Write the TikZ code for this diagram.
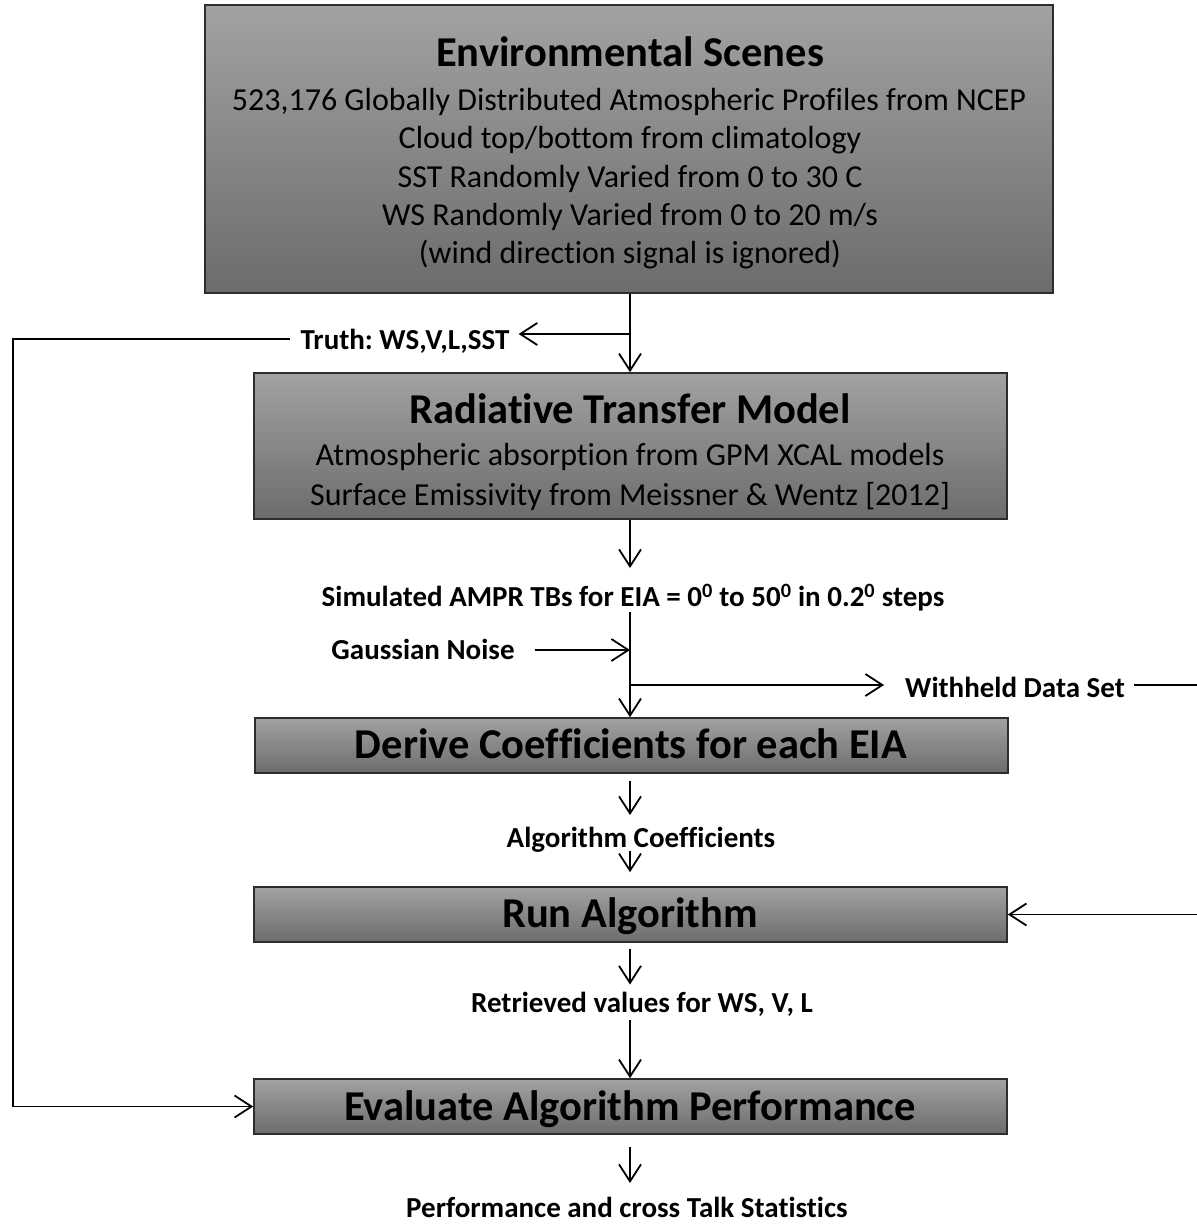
\documentclass[tikz,border=0pt]{standalone}
\usepackage{fontspec}
\setmainfont{Carlito}[Ligatures=NoCommon]
\usetikzlibrary{arrows.meta,calc}
\definecolor{gtop}{RGB}{162,162,162}
\definecolor{gbot}{RGB}{108,108,108}
\definecolor{gedge}{RGB}{45,45,45}
\frenchspacing
\begin{document}
\begin{tikzpicture}[x=1pt,y=-1pt,
  box/.style={draw=gedge,line width=1.6pt,top color=gtop,bottom color=gbot,inner sep=0pt},
  arr/.style={line width=1.8pt,-{Straight Barb[length=17pt,width=22pt,line width=1.8pt]}},
  ttl/.style={font=\fontsize{42.5}{48}\selectfont\bfseries,inner sep=0pt,text height=27pt,text depth=0pt},
  body/.style={font=\fontsize{32}{38}\selectfont,inner sep=0pt,text height=20.5pt,text depth=0pt},
  lbl/.style={font=\fontsize{29}{34}\selectfont\bfseries,inner sep=0pt,text height=18.6pt,text depth=0pt}]
\useasboundingbox[fill=white] (0,0) rectangle (1196,1225);
% boxes
\node[box,minimum width=848pt,minimum height=288pt] (b1) at (629,149) {};
\node[box,minimum width=753pt,minimum height=146pt] (b2) at (630.5,446) {};
\node[box,minimum width=753pt,minimum height=55pt] (b3) at (631.5,745.5) {};
\node[box,minimum width=753pt,minimum height=55pt] (b4) at (630.5,914.5) {};
\node[box,minimum width=753pt,minimum height=55pt] (b5) at (630.5,1106.5) {};
% box texts
\node[ttl] (t1) at (630,53) {Environmental Scenes};
\node[body] (l1) at (629,100) {523,176 Globally Distributed Atmospheric Profiles from NCEP};
\node[body] (l2) at (630,138) {Cloud top/bottom from climatology};
\node[body] (l3) at (630,177) {SST Randomly Varied from 0 to 30 C};
\node[body] (l4) at (630,215) {WS Randomly Varied from 0 to 20 m/s};
\node[body] (l5) at (630,253) {(wind direction signal is ignored)};
\node[ttl] (t2) at (630,410) {Radiative Transfer Model};
\node[body] (m1) at (630,455) {Atmospheric absorption from GPM XCAL models};
\node[body] (m2) at (630,495) {Surface Emissivity from Meissner \& Wentz [2012]};
\node[ttl] (t3) at (631,745) {Derive Coefficients for each EIA};
\node[ttl] (t4) at (630,914) {Run Algorithm};
\node[ttl] (t5) at (630,1107) {Evaluate Algorithm Performance};
% labels
\node[lbl] (truth) at (405,340) {Truth: WS,V,L,SST};
\node[lbl] (sim) at (633,597) {Simulated AMPR TBs for EIA = 0\textsuperscript{0} to 50\textsuperscript{0} in 0.2\textsuperscript{0} steps};
\node[lbl] (gauss) at (423,650) {Gaussian Noise};
\node[lbl] (withheld) at (1015,688) {Withheld Data Set};
\node[lbl] (coef) at (641,838) {Algorithm Coefficients};
\node[lbl] (retr) at (642,1003) {Retrieved values for WS, V, L};
\node[lbl] (perf) at (627,1208) {Performance and cross Talk Statistics};
% coordinates
\coordinate (cx) at (630,0);
\coordinate (j1) at (630,334);
\coordinate (lc) at (13,339);
\coordinate (j2) at (630,685);
\coordinate (rc) at (1200,685);
% connectors
\draw[arr] (b1.south -| cx) -- (b2.north -| cx);
\draw[arr,shorten >=9pt] (j1) -- (truth.east |- j1);
\draw[arr,shorten <=10pt] (truth.west |- lc) -- (lc) |- (b5.west);
\draw[arr,shorten >=19.5pt] (b2.south -| cx) -- (sim.north -| cx);
\draw[arr,shorten <=5.5pt] (sim.south -| cx) -- (b3.north -| cx);
\draw[arr,shorten <=20pt] (gauss.east) -- (gauss.east -| cx);
\draw[arr,shorten >=21pt] (j2) -- (withheld.west |- j2);
\draw[arr,shorten <=9pt] (withheld.east |- j2) -- (rc) |- (b4.east);
\draw[arr,shorten <=7pt,shorten >=13.5pt] (b3.south -| cx) -- (coef.north -| cx);
\draw[arr,shorten <=3pt,shorten >=14pt] (coef.south -| cx) -- (b4.north -| cx);
\draw[arr,shorten <=6pt,shorten >=9pt] (b4.south -| cx) -- (retr.north -| cx);
\draw[arr,shorten <=7.5pt] (retr.south -| cx) -- (b5.north -| cx);
\draw[arr,shorten <=12pt,shorten >=15.5pt] (b5.south -| cx) -- (perf.north -| cx);
\end{tikzpicture}
\end{document}
